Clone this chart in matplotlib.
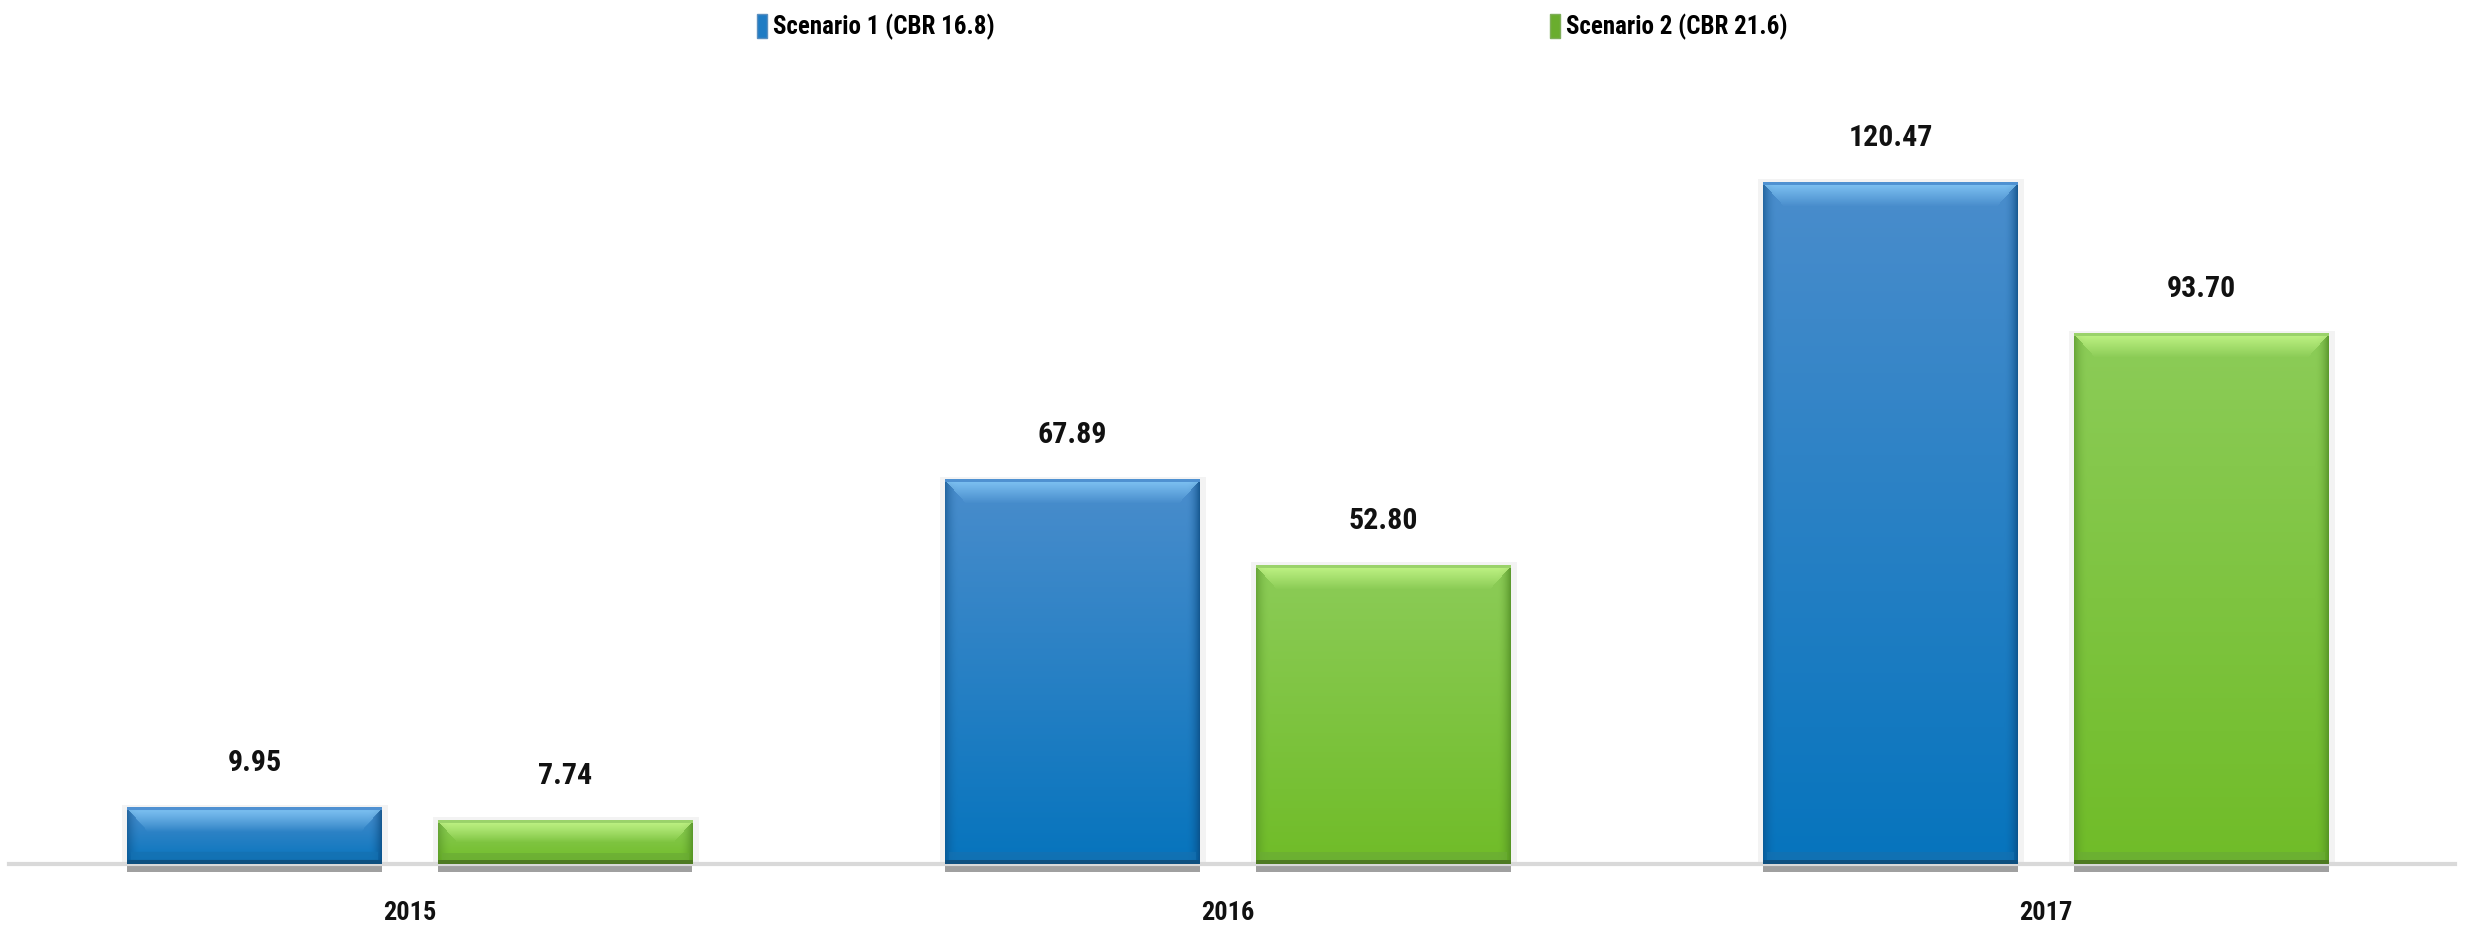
import numpy as np
import matplotlib
matplotlib.use('Agg')
import matplotlib.pyplot as plt
from matplotlib import font_manager
from matplotlib.colors import to_rgb
from matplotlib.patches import Patch

# pick a condensed face, the reference text is narrow
installed = {f.name for f in font_manager.fontManager.ttflist}
narrow = [n for n in ['Roboto Condensed', 'Arial Narrow', 'Liberation Sans Narrow',
                      'PT Sans Narrow', 'Archivo Narrow', 'Asap Condensed'] if n in installed]
plt.rcParams['font.family'] = narrow[:1] + ['DejaVu Sans']

# data
years = ['2015', '2016', '2017']
scenario1 = [9.95, 67.89, 120.47]
scenario2 = [7.74, 52.80, 93.70]
series_names = ['Scenario 1 (CBR 16.8)', 'Scenario 2 (CBR 21.6)']

BLUE = dict(top='#4f92d2', bevel='#8fd3ff', body_top='#4a8dcc', body_bot='#0674bd',
            low='#1570b0', bottom='#0e4f7f', side='#0a4a80', legend='#1f7cc4')
GREEN = dict(top='#9bd36a', bevel='#cfff92', body_top='#8ccc58', body_bot='#70bc28',
             low='#6aab35', bottom='#4e7a22', side='#4e8a22', legend='#6aad2e')

FIG_W, FIG_H, DPI = 24.68, 9.31, 100
PX_PER_UNIT = 5.66
BAR_W = 0.311
OFFSET = 0.19


def bar_image(h_units, style, nx=255):
    ny = max(int(round(h_units * PX_PER_UNIT)), 6)
    t = np.linspace(0, 1, ny)[:, None]
    top = np.array(to_rgb(style['body_top']))
    bot = np.array(to_rgb(style['body_bot']))
    img = top[None, None, :] * (1 - t[..., None]) + bot[None, None, :] * t[..., None]
    img = np.repeat(img, nx, axis=1)
    side = np.array(to_rgb(style['side']))
    sw = 14
    for i in range(sw):
        a = (1 - i / sw) ** 2
        img[:, i] = img[:, i] * (1 - 0.55 * a) + side * 0.55 * a
        img[:, nx - 1 - i] = img[:, nx - 1 - i] * (1 - 0.75 * a) + side * 0.75 * a
    # top bevel
    bevel = np.array(to_rgb(style['bevel']))
    bh = min(24, ny // 2)
    for r in range(bh):
        a = 1 - r / bh
        inset = int(r * 0.9)
        img[r, inset:nx - inset] = img[r, inset:nx - inset] * (1 - 0.8 * a) + bevel * 0.8 * a
    img[0:3, :] = np.array(to_rgb(style['top']))
    # bottom bevel and edge
    lb = min(12, ny // 4)
    img[ny - lb:, 4:nx - 4] = img[ny - lb:, 4:nx - 4] * 0.3 + np.array(to_rgb(style['low'])) * 0.7
    img[ny - 4:, :] = np.array(to_rgb(style['bottom']))
    return np.clip(img, 0, 1)


fig = plt.figure(figsize=(FIG_W, FIG_H), dpi=DPI)
ax_left, ax_right = 9 / 2468, 2455 / 2468
ax_bottom = (931 - 864) / 931
ax_top = (931 - 60) / 931
ax = fig.add_axes([ax_left, ax_bottom, ax_right - ax_left, ax_top - ax_bottom])

x = np.arange(len(years))
for vals, off, style in [(scenario1, -OFFSET, BLUE), (scenario2, OFFSET, GREEN)]:
    xs = x + off
    ax.bar(xs, vals, width=BAR_W * 1.02, color='none', edgecolor='#f3f3f3', linewidth=5, zorder=1)
    ax.bar(xs, [-1.5] * len(vals), width=BAR_W, color='#a0a0a0', zorder=1, clip_on=False)
    for xi, v in zip(xs, vals):
        ax.imshow(bar_image(v, style), extent=[xi - BAR_W / 2, xi + BAR_W / 2, 0, v],
                  aspect='auto', interpolation='bilinear', zorder=3)
        ax.annotate(f'{v:.2f}', (xi, v), xytext=(0, 22), textcoords='offset points',
                    ha='center', va='bottom', fontsize=21.5, fontweight='bold', color='#111111')

ax.axhline(0, color='#d9d9d9', linewidth=3, zorder=2, clip_on=False)
ax.set_xlim(-0.49, 2.5)
ax.set_ylim(0, (864 - 60) / PX_PER_UNIT)
ax.set_xticks(x)
ax.set_xticklabels(years, fontsize=19, fontweight='bold', color='#111111')
ax.tick_params(axis='x', length=0, pad=27)
ax.set_yticks([])
for s in ax.spines.values():
    s.set_visible(False)
ax.patch.set_alpha(0)

handles = [Patch(facecolor=BLUE['legend'], edgecolor='#5b8fbf'),
           Patch(facecolor=GREEN['legend'], edgecolor='#7fae5a')]
fig.legend(handles, series_names, loc='center left', bbox_to_anchor=(757 / 2468, 1 - 27 / 931),
           ncol=2, frameon=False, handlelength=0.4, handleheight=1.1,
           handletextpad=0.25, columnspacing=22.2, borderpad=0, borderaxespad=0,
           prop={'weight': 'bold', 'size': 18, 'family': plt.rcParams['font.family']})

fig.savefig('out.png', dpi=DPI)
